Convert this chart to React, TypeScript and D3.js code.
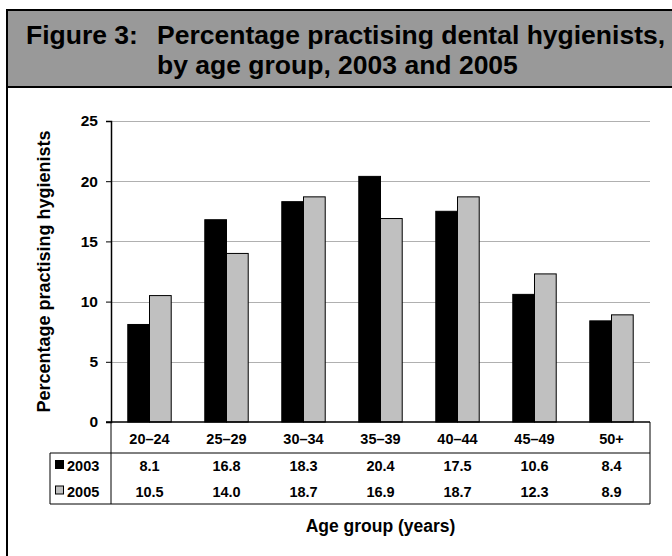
import React, { useEffect, useRef } from "react";
import * as d3 from "d3";

const ageGroups = ["20–24", "25–29", "30–34", "35–39", "40–44", "45–49", "50+"];
const years = ["2003", "2005"];
const values2003 = [8.1, 16.8, 18.3, 20.4, 17.5, 10.6, 8.4];
const values2005 = [10.5, 14.0, 18.7, 16.9, 18.7, 12.3, 8.9];
const yTicks = [0, 5, 10, 15, 20, 25];

const FONT = "'Liberation Sans', Arial, Helvetica, sans-serif";

const App = () => {
  const ref = useRef<SVGSVGElement | null>(null);

  useEffect(() => {
    const svg = d3.select(ref.current);
    svg.selectAll("*").remove();

    const width = 672;
    const height = 556;
    const margin = { top: 121, left: 111, right: 22, bottom: 134 };
    const plotRight = width - margin.right;
    const plotBottom = height - margin.bottom;

    const series = [values2003, values2005];
    const colors = ["#000000", "#c0c0c0"];

    // outer frame + title band
    svg
      .append("rect")
      .attr("x", 7)
      .attr("y", 10)
      .attr("width", 680)
      .attr("height", 560)
      .attr("fill", "#fff")
      .attr("stroke", "#000")
      .attr("stroke-width", 2);
    svg
      .append("rect")
      .attr("x", 7)
      .attr("y", 10)
      .attr("width", 680)
      .attr("height", 77)
      .attr("fill", "#999999")
      .attr("stroke", "#000")
      .attr("stroke-width", 2);

    const title = svg
      .append("g")
      .attr("font-family", FONT)
      .attr("font-weight", "bold")
      .attr("font-size", 26.5)
      .attr("fill", "#000");
    title.append("text").attr("x", 26).attr("y", 44).text("Figure 3:");
    title
      .append("text")
      .attr("x", 157)
      .attr("y", 44)
      .text("Percentage practising dental hygienists,");
    title
      .append("text")
      .attr("x", 157)
      .attr("y", 74)
      .text("by age group, 2003 and 2005");

    const x0 = d3
      .scaleBand()
      .domain(ageGroups)
      .range([margin.left, plotRight]);
    const barW = x0.bandwidth() * 0.282;
    const pairOffset = (x0.bandwidth() - barW * 2) / 2;

    const y = d3
      .scaleLinear()
      .domain([0, 25])
      .range([plotBottom, margin.top]);

    // gridlines
    svg
      .append("g")
      .selectAll("line")
      .data(yTicks.filter((d) => d > 0))
      .enter()
      .append("line")
      .attr("x1", margin.left)
      .attr("x2", plotRight)
      .attr("y1", (d) => Math.round(y(d)) + 0.5)
      .attr("y2", (d) => Math.round(y(d)) + 0.5)
      .attr("stroke", "#b0b0b0")
      .attr("stroke-width", 1);

    // bars
    series.forEach((vals, si) => {
      svg
        .append("g")
        .selectAll("rect")
        .data(vals)
        .enter()
        .append("rect")
        .attr("x", (d, i) => (x0(ageGroups[i]) as number) + pairOffset + si * barW)
        .attr("y", (d) => y(d))
        .attr("width", barW)
        .attr("height", (d) => plotBottom - y(d))
        .attr("fill", colors[si])
        .attr("stroke", "#000")
        .attr("stroke-width", 1);
    });

    // y axis
    const yAxis = d3.axisLeft(y).tickValues(yTicks).tickSize(5).tickPadding(8);
    const yg = svg
      .append("g")
      .attr("transform", `translate(${margin.left},0)`)
      .call(yAxis);
    yg.select(".domain").attr("stroke", "#000").attr("stroke-width", 1.5);
    yg.selectAll(".tick line").attr("stroke", "#000");
    yg.selectAll("text")
      .attr("font-family", FONT)
      .attr("font-weight", "bold")
      .attr("font-size", 15.5)
      .attr("fill", "#000");

    svg
      .append("text")
      .attr("transform", `translate(50,${(margin.top + plotBottom) / 2}) rotate(-90)`)
      .attr("text-anchor", "middle")
      .attr("font-family", FONT)
      .attr("font-weight", "bold")
      .attr("font-size", 18)
      .text("Percentage practising hygienists");

    // data table
    const rowTop = 453;
    const rowH = 25.5;
    const tableBottom = rowTop + rowH * 2;
    const tbl = svg.append("g").attr("stroke", "#000").attr("stroke-width", 1);
    tbl
      .append("line")
      .attr("x1", 106)
      .attr("x2", plotRight)
      .attr("y1", plotBottom)
      .attr("y2", plotBottom)
      .attr("stroke-width", 1.5);
    tbl.append("line").attr("x1", 50).attr("x2", plotRight).attr("y1", rowTop).attr("y2", rowTop);
    tbl
      .append("line")
      .attr("x1", 50)
      .attr("x2", plotRight)
      .attr("y1", tableBottom)
      .attr("y2", tableBottom);
    tbl.append("line").attr("x1", 50).attr("x2", 50).attr("y1", rowTop).attr("y2", tableBottom);
    tbl
      .append("line")
      .attr("x1", margin.left)
      .attr("x2", margin.left)
      .attr("y1", plotBottom)
      .attr("y2", tableBottom);
    tbl
      .append("line")
      .attr("x1", plotRight)
      .attr("x2", plotRight)
      .attr("y1", plotBottom)
      .attr("y2", tableBottom);

    const txt = svg
      .append("g")
      .attr("font-family", FONT)
      .attr("font-weight", "bold")
      .attr("font-size", 14.5)
      .attr("fill", "#000")
      .attr("text-anchor", "middle");

    txt
      .selectAll(".cat")
      .data(ageGroups)
      .enter()
      .append("text")
      .attr("x", (d) => (x0(d) as number) + x0.bandwidth() / 2)
      .attr("y", 444)
      .text((d) => d);

    series.forEach((vals, si) => {
      const by = rowTop + rowH * si + 18;
      txt
        .append("g")
        .selectAll("text")
        .data(vals)
        .enter()
        .append("text")
        .attr("x", (d, i) => (x0(ageGroups[i]) as number) + x0.bandwidth() / 2)
        .attr("y", by)
        .text((d) => d.toFixed(1));

      svg
        .append("rect")
        .attr("x", 55.5)
        .attr("y", by - 10.5)
        .attr("width", 8)
        .attr("height", 8)
        .attr("fill", colors[si])
        .attr("stroke", "#000")
        .attr("stroke-width", 1);
      svg
        .append("text")
        .attr("x", 67)
        .attr("y", by)
        .attr("font-family", FONT)
        .attr("font-weight", "bold")
        .attr("font-size", 14.5)
        .text(years[si]);
    });

    svg
      .append("text")
      .attr("x", (margin.left + plotRight) / 2)
      .attr("y", 532)
      .attr("text-anchor", "middle")
      .attr("font-family", FONT)
      .attr("font-weight", "bold")
      .attr("font-size", 17.5)
      .text("Age group (years)");
  }, []);

  return (
    <svg
      ref={ref}
      width={672}
      height={556}
      style={{ position: "absolute", left: 0, top: 0, display: "block" }}
    ></svg>
  );
};

export default App;
